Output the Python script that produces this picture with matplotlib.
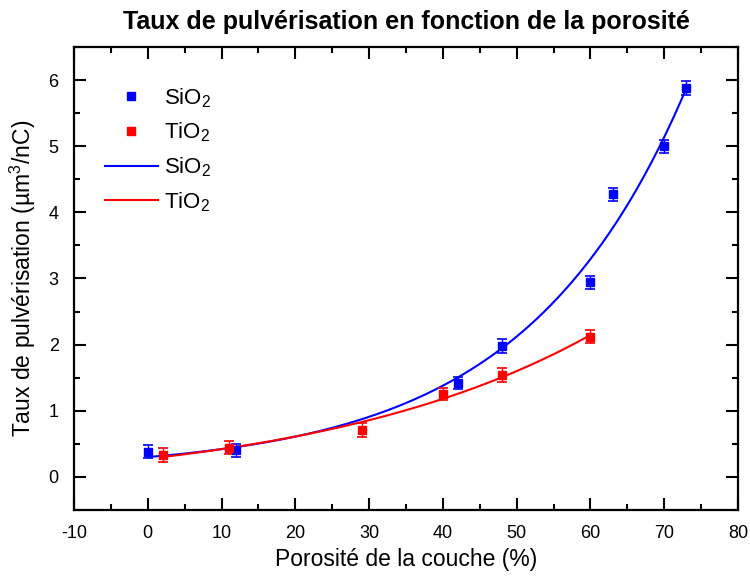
import numpy as np
import matplotlib
matplotlib.use('Agg')
import matplotlib.pyplot as plt
from matplotlib.lines import Line2D
from matplotlib.ticker import MultipleLocator

# données
x_sio2 = [0, 12, 42, 48, 60, 63, 70, 73]
y_sio2 = [0.38, 0.40, 1.42, 1.98, 2.94, 4.27, 5.00, 5.88]
err_sio2 = [0.10, 0.10, 0.09, 0.10, 0.10, 0.10, 0.10, 0.10]

x_tio2 = [2, 11, 29, 40, 48, 60]
y_tio2 = [0.33, 0.44, 0.71, 1.26, 1.54, 2.12]
err_tio2 = [0.10, 0.10, 0.10, 0.09, 0.10, 0.10]

xticks = [-10, 0, 10, 20, 30, 40, 50, 60, 70, 80]
yticks = [0, 1, 2, 3, 4, 5, 6]

# police
fam = 'Liberation Sans'
plt.rcParams['font.family'] = [fam, 'DejaVu Sans']
plt.rcParams['mathtext.fontset'] = 'custom'
plt.rcParams['mathtext.rm'] = fam
plt.rcParams['mathtext.it'] = fam
plt.rcParams['axes.unicode_minus'] = False


def exp_fit(x, y):
    # y = y0 + A*exp(x/t), t cherché sur une grille
    x = np.asarray(x, float)
    y = np.asarray(y, float)
    best = None
    for t in np.linspace(5, 200, 2000):
        M = np.column_stack([np.ones_like(x), np.exp(x / t)])
        coef, res, _, _ = np.linalg.lstsq(M, y, rcond=None)
        r = np.sum((M @ coef - y) ** 2)
        if best is None or r < best[0]:
            best = (r, coef, t)
    _, (y0, A), t = best
    return lambda xx: y0 + A * np.exp(xx / t)


fig = plt.figure(figsize=(7.5, 5.76), dpi=100)
ax = fig.add_axes([0.0987, 0.1146, 0.8853, 0.8038])

f_si = exp_fit(x_sio2, y_sio2)
f_ti = exp_fit(x_tio2, y_tio2)
xs_si = np.linspace(min(x_sio2), max(x_sio2), 300)
xs_ti = np.linspace(min(x_tio2), max(x_tio2), 300)
ax.plot(xs_si, f_si(xs_si), color='#0000ff', lw=1.5, zorder=2)
ax.plot(xs_ti, f_ti(xs_ti), color='#ff0000', lw=1.5, zorder=2)

ax.errorbar(x_sio2, y_sio2, yerr=err_sio2, fmt='s', color='#0000ff', ms=5.5,
            capsize=3.8, elinewidth=1, capthick=1.2, zorder=3)
ax.errorbar(x_tio2, y_tio2, yerr=err_tio2, fmt='s', color='#ff0000', ms=5.5,
            capsize=3.8, elinewidth=1, capthick=1.2, zorder=3)

ax.set_xlim(-10, 80)
ax.set_ylim(-0.5, 6.5)
ax.set_xticks(xticks)
ax.set_yticks(yticks)
ax.xaxis.set_minor_locator(MultipleLocator(5))
ax.yaxis.set_minor_locator(MultipleLocator(0.5))
ax.tick_params(which='both', direction='in', top=True, right=True, width=1.5, labelsize=13)
ax.tick_params(which='major', length=8.6)
ax.tick_params(which='minor', length=4.3)
ax.tick_params(axis='x', pad=11)
ax.tick_params(axis='y', pad=11)
for s in ax.spines.values():
    s.set_linewidth(1.6)

ax.set_xlabel('Porosité de la couche (%)', fontsize=16.5, labelpad=4)
ax.set_ylabel(r'Taux de pulvérisation (µm$^{3}$/nC)', fontsize=16.5, labelpad=8)
ax.set_title('Taux de pulvérisation en fonction de la porosité', fontsize=18,
             fontweight='bold', pad=13)

handles = [
    Line2D([], [], marker='s', ls='none', color='#0000ff', ms=5.5),
    Line2D([], [], marker='s', ls='none', color='#ff0000', ms=5.5),
    Line2D([], [], color='#0000ff', lw=1.5),
    Line2D([], [], color='#ff0000', lw=1.5),
]
labels = [r'SiO$_{2}$', r'TiO$_{2}$', r'SiO$_{2}$', r'TiO$_{2}$']
ax.legend(handles, labels, loc='upper left', bbox_to_anchor=(0.033, 0.935),
          frameon=False, fontsize=16, handlelength=2.4, handletextpad=0.25,
          labelspacing=0.5, borderaxespad=0)

fig.savefig('out.png', dpi=100)
